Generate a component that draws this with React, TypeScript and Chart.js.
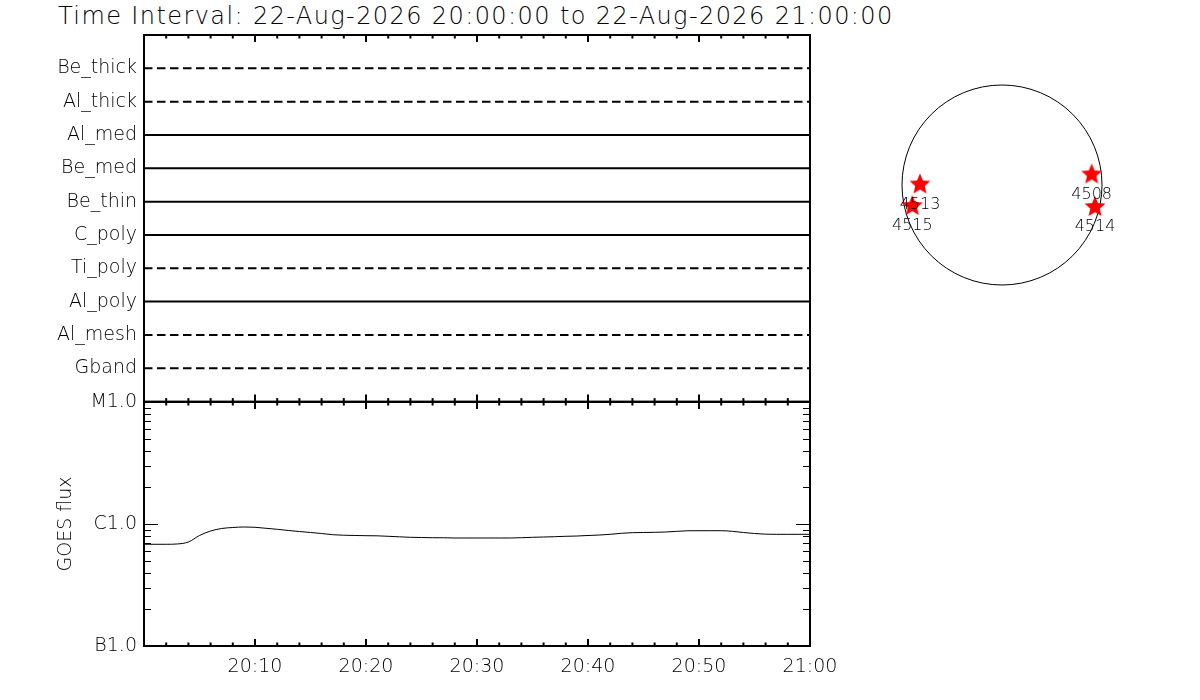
import React, { useEffect, useRef } from "react";
import { Chart, registerables } from "chart.js";

Chart.register(...registerables);

// ---- data ----
const titleText = "Time Interval: 22-Aug-2026 20:00:00 to 22-Aug-2026 21:00:00";

// filter channels, top to bottom
const filterNames = ["Be_thick", "Al_thick", "Al_med", "Be_med", "Be_thin", "C_poly", "Ti_poly", "Al_poly", "Al_mesh", "Gband"];
// solid = observed in interval, dashed = not observed
const filterObserved = [false, false, true, true, true, true, false, true, false, false];

// time axis (minutes after 20:00)
const timeTickMinutes = [10, 20, 30, 40, 50, 60];
const timeTickLabels = ["20:10", "20:20", "20:30", "20:40", "20:50", "21:00"];

// GOES class axis
const goesTickValues = [1e-7, 1e-6, 1e-5];
const goesTickLabels = ["B1.0", "C1.0", "M1.0"];

// GOES flux (W/m^2), one value per minute from 20:00 to 21:00
const goesFlux = [
  6.82e-7, 6.82e-7, 6.82e-7, 6.86e-7, 7.12e-7, 8.05e-7, 8.76e-7, 9.19e-7, 9.36e-7, 9.45e-7,
  9.4e-7, 9.22e-7, 9.05e-7, 8.85e-7, 8.68e-7, 8.52e-7, 8.36e-7, 8.17e-7, 8.09e-7, 8.05e-7,
  8.02e-7, 8.0e-7, 7.93e-7, 7.85e-7, 7.78e-7, 7.75e-7, 7.72e-7, 7.71e-7, 7.68e-7, 7.68e-7,
  7.68e-7, 7.68e-7, 7.68e-7, 7.68e-7, 7.72e-7, 7.78e-7, 7.82e-7, 7.87e-7, 7.93e-7, 7.97e-7,
  8.05e-7, 8.12e-7, 8.23e-7, 8.39e-7, 8.49e-7, 8.52e-7, 8.55e-7, 8.6e-7, 8.71e-7, 8.8e-7,
  8.81e-7, 8.81e-7, 8.81e-7, 8.71e-7, 8.52e-7, 8.36e-7, 8.25e-7, 8.23e-7, 8.23e-7, 8.23e-7,
  8.23e-7,
];

// active regions on the disk (arcsec from disk centre)
const regionNumbers = ["4513", "4515", "4508", "4514"];
const regionX = [-779, -852, 852, 884];
const regionY = [5, -200, 100, -210];
const solarRadius = 950;

const FONT = "'DejaVu Sans', sans-serif";
const minutes = goesFlux.map((_, i) => i);

// ---- helpers ----
function line(ctx: CanvasRenderingContext2D, x1: number, y1: number, x2: number, y2: number) {
  ctx.beginPath();
  ctx.moveTo(x1, y1);
  ctx.lineTo(x2, y2);
  ctx.stroke();
}

// box round the plot with inward ticks, like the old IDL plots
function framePlugin(logTicks: boolean) {
  return {
    id: "idlFrame",
    afterDraw(chart: any) {
      const { ctx, chartArea: a, scales } = chart;
      ctx.save();
      ctx.strokeStyle = "#000";
      ctx.lineWidth = 2;
      ctx.strokeRect(a.left, a.top, a.right - a.left, a.bottom - a.top);
      for (let m = 2; m < 60; m += 2) {
        const px = scales.x.getPixelForValue(m);
        const len = m % 10 === 0 ? 7 : 3.5;
        line(ctx, px, a.top, px, a.top + len);
        line(ctx, px, a.bottom, px, a.bottom - len);
      }
      if (logTicks) {
        ctx.lineWidth = 1;
        const y = scales.y;
        for (const dec of [1e-7, 1e-6]) {
          for (let k = 2; k <= 10; k++) {
            const py = Math.round(y.getPixelForValue(dec * k)) + 0.5;
            const len = k === 10 ? 14 : 7;
            line(ctx, a.left, py, a.left + len, py);
            line(ctx, a.right, py, a.right - len, py);
          }
        }
      }
      ctx.restore();
    },
  };
}

function makeStar(r: number) {
  const c = document.createElement("canvas");
  c.width = c.height = Math.ceil(2 * r + 2);
  const g = c.getContext("2d")!;
  g.fillStyle = "#ff0000";
  g.beginPath();
  for (let i = 0; i < 10; i++) {
    const rr = i % 2 === 0 ? r : r * 0.45;
    const ang = -Math.PI / 2 + (i * Math.PI) / 5;
    g.lineTo(c.width / 2 + rr * Math.cos(ang), c.height / 2 + rr * Math.sin(ang));
  }
  g.closePath();
  g.fill();
  return c;
}

const diskPlugin = {
  id: "disk",
  beforeDatasetsDraw(chart: any) {
    const { ctx, scales } = chart;
    const cx = scales.x.getPixelForValue(0);
    const cy = scales.y.getPixelForValue(0);
    const r = scales.x.getPixelForValue(solarRadius) - cx;
    ctx.save();
    ctx.strokeStyle = "#000";
    ctx.lineWidth = 1;
    ctx.beginPath();
    ctx.arc(cx, cy, r, 0, Math.PI * 2);
    ctx.stroke();
    ctx.restore();
  },
  afterDatasetsDraw(chart: any) {
    const { ctx } = chart;
    const meta = chart.getDatasetMeta(0);
    ctx.save();
    ctx.fillStyle = "#000";
    ctx.font = `200 16px ${FONT}`;
    ctx.textAlign = "center";
    ctx.textBaseline = "middle";
    meta.data.forEach((pt: any, i: number) => {
      ctx.fillText(regionNumbers[i], pt.x, pt.y + 20);
    });
    ctx.restore();
  },
};

const tickFont = { family: FONT, size: 19, weight: 200 as any };

// ---- components ----
const FilterPanel = () => {
  const ref = useRef<HTMLCanvasElement>(null);
  useEffect(() => {
    if (!ref.current) return;
    const chart = new Chart(ref.current, {
      type: "line",
      data: {
        datasets: filterNames.map((name, i) => ({
          label: name,
          data: [
            { x: 0, y: i + 1 },
            { x: 60, y: i + 1 },
          ],
          borderColor: "#000",
          borderWidth: 2,
          borderDash: filterObserved[i] ? [] : [8.5, 4.5],
          pointRadius: 0,
        })),
      },
      options: {
        responsive: true,
        maintainAspectRatio: false,
        animation: false,
        layout: { autoPadding: false, padding: { left: 0, top: 35, right: 390, bottom: 18 } },
        plugins: { legend: { display: false }, tooltip: { enabled: false } },
        scales: {
          x: { type: "linear", min: 0, max: 60, display: false },
          y: {
            type: "linear",
            min: 0,
            max: 11,
            reverse: true,
            afterBuildTicks: (s: any) => {
              s.ticks = filterNames.map((_, i) => ({ value: i + 1 }));
            },
            afterFit: (s: any) => {
              s.width = 144;
            },
            grid: { display: false, drawTicks: false },
            border: { display: false },
            ticks: {
              callback: (v: any) => filterNames[v - 1] ?? "",
              padding: 7,
              color: "#000",
              font: tickFont,
            },
          },
        },
      },
      plugins: [framePlugin(false)],
    });
    return () => chart.destroy();
  }, []);
  return (
    <div style={{ position: "absolute", left: 0, top: 0, width: 1200, height: 420 }}>
      <canvas ref={ref} />
    </div>
  );
};

const GoesPanel = () => {
  const ref = useRef<HTMLCanvasElement>(null);
  useEffect(() => {
    if (!ref.current) return;
    const chart = new Chart(ref.current, {
      type: "line",
      data: {
        labels: minutes,
        datasets: [
          {
            label: "GOES",
            data: minutes.map((m, i) => ({ x: m, y: goesFlux[i] })),
            borderColor: "#000",
            borderWidth: 1,
            pointRadius: 0,
            cubicInterpolationMode: "monotone",
          },
        ],
      },
      options: {
        responsive: true,
        maintainAspectRatio: false,
        animation: false,
        layout: { autoPadding: false, padding: { left: 0, top: 22, right: 390, bottom: 0 } },
        plugins: { legend: { display: false }, tooltip: { enabled: false } },
        scales: {
          x: {
            type: "linear",
            min: 0,
            max: 60,
            afterBuildTicks: (s: any) => {
              s.ticks = timeTickMinutes.map((v) => ({ value: v }));
            },
            afterFit: (s: any) => {
              s.height = 54;
            },
            grid: { display: false, drawTicks: false },
            border: { display: false },
            ticks: {
              autoSkip: false,
              maxRotation: 0,
              callback: (v: any) => timeTickLabels[timeTickMinutes.indexOf(v)] ?? "",
              padding: 10,
              color: "#000",
              font: tickFont,
            },
          },
          y: {
            type: "logarithmic",
            min: 1e-7,
            max: 1e-5,
            afterBuildTicks: (s: any) => {
              s.ticks = goesTickValues.map((v) => ({ value: v }));
            },
            afterFit: (s: any) => {
              s.width = 144;
            },
            grid: { display: false, drawTicks: false },
            border: { display: false },
            title: {
              display: true,
              text: "GOES flux",
              color: "#000",
              font: tickFont,
              padding: { top: 55, bottom: 0 },
            },
            ticks: {
              callback: (v: any) => goesTickLabels[goesTickValues.indexOf(v)] ?? "",
              padding: 7,
              color: "#000",
              font: tickFont,
            },
          },
        },
      },
      plugins: [framePlugin(true)],
    });
    return () => chart.destroy();
  }, []);
  return (
    <div style={{ position: "absolute", left: 0, top: 380, width: 1200, height: 320 }}>
      <canvas ref={ref} />
    </div>
  );
};

const DiskPanel = () => {
  const ref = useRef<HTMLCanvasElement>(null);
  useEffect(() => {
    if (!ref.current) return;
    const star = makeStar(11);
    const lim = solarRadius * 1.25;
    const chart = new Chart(ref.current, {
      type: "scatter",
      data: {
        datasets: [
          {
            label: "regions",
            data: regionX.map((x, i) => ({ x, y: regionY[i] })),
            pointStyle: star,
            pointRadius: 11,
          },
        ],
      },
      options: {
        responsive: true,
        maintainAspectRatio: false,
        animation: false,
        layout: { autoPadding: false, padding: 0 },
        plugins: { legend: { display: false }, tooltip: { enabled: false } },
        scales: {
          x: { type: "linear", min: -lim, max: lim, display: false },
          y: { type: "linear", min: -lim, max: lim, display: false },
        },
      },
      plugins: [diskPlugin],
    });
    return () => chart.destroy();
  }, []);
  return (
    <div style={{ position: "absolute", left: 877, top: 60, width: 250, height: 250 }}>
      <canvas ref={ref} />
    </div>
  );
};

const App = () => {
  return (
    <div style={{ position: "absolute", left: 0, top: 0, width: 1200, height: 700, background: "#fff", overflow: "hidden" }}>
      <div
        style={{
          position: "absolute",
          left: 58,
          top: 4,
          fontFamily: FONT,
          fontWeight: 200,
          fontSize: 24,
          letterSpacing: "1.4px",
          lineHeight: "24px",
          whiteSpace: "nowrap",
          color: "#000",
        }}
      >
        {titleText}
      </div>
      <FilterPanel />
      <GoesPanel />
      <DiskPanel />
    </div>
  );
};

export default App;
